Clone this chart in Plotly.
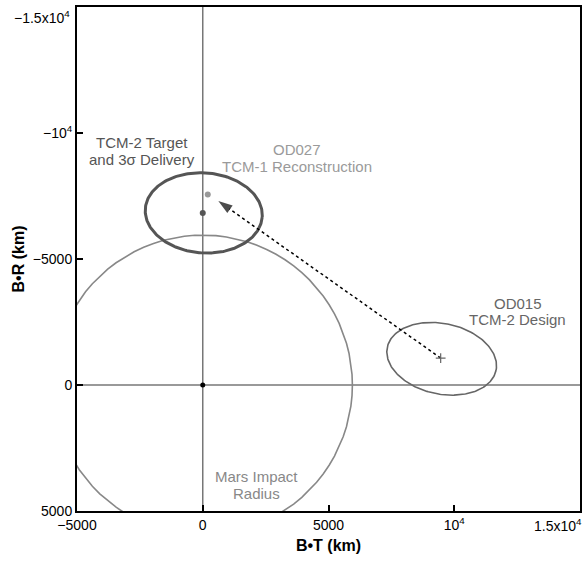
import numpy as np
import plotly.graph_objects as go

# ---- data ----
# ellipses: center x, center y, semi-axis a, semi-axis b, rotation (deg)
mars_impact = [0, 0, 5950, 5950, 0]
tcm2_target_ellipse = [40, -6830, 2330, 1590, 4]
od015_ellipse = [9500, -1040, 2210, 1400, 12]

od015_point = [9460, -1070]
od027_point = [200, -7560]
tcm2_target_point = [0, -6830]
origin_point = [0, 0]
arrow_tip = [620, -7300]

x_tickvals = [-5000, 0, 5000, 10000, 15000]
x_ticktext = ["\u22125000", "0", "5000", "10<sup>4</sup>", "1.5x10<sup>4</sup>"]
y_tickvals = [5000, 0, -5000, -10000, -15000]
y_ticktext = ["5000", "0", "\u22125000", "\u221210<sup>4</sup>", "\u22121.5x10<sup>4</sup>"]

# one entry per text line: text, x, y, colour
label_lines = [
    ("TCM-2 Target", -2400, -9620, "#555555"),
    ("and 3\u03c3 Delivery", -2400, -8950, "#555555"),
    ("OD027", 3740, -9330, "#9a9a9a"),
    ("TCM-1 Reconstruction", 3740, -8660, "#9a9a9a"),
    ("OD015", 12520, -3250, "#666666"),
    ("TCM-2 Design", 12520, -2580, "#666666"),
    ("Mars Impact", 2150, 3650, "#888888"),
    ("Radius", 2150, 4320, "#888888"),
]


def ellipse(p, n=240):
    cx, cy, a, b, rot = p
    t = np.linspace(0, 2 * np.pi, n)
    r = np.deg2rad(rot)
    x = cx + a * np.cos(t) * np.cos(r) - b * np.sin(t) * np.sin(r)
    y = cy + a * np.cos(t) * np.sin(r) + b * np.sin(t) * np.cos(r)
    return x, y


fig = go.Figure()

# zero lines
fig.add_trace(go.Scatter(x=[0, 0], y=[5000, -15000], mode="lines",
                         line=dict(color="#777777", width=1.5), hoverinfo="skip"))
fig.add_trace(go.Scatter(x=[-5000, 15000], y=[0, 0], mode="lines",
                         line=dict(color="#777777", width=1.5), hoverinfo="skip"))

mx, my = ellipse(mars_impact, 90)
fig.add_trace(go.Scatter(x=mx, y=my, mode="lines", line=dict(color="#888888", width=1.6)))
tx, ty = ellipse(tcm2_target_ellipse)
fig.add_trace(go.Scatter(x=tx, y=ty, mode="lines", line=dict(color="#555555", width=3)))
ox, oy = ellipse(od015_ellipse)
fig.add_trace(go.Scatter(x=ox, y=oy, mode="lines", line=dict(color="#666666", width=1.6)))

# dotted arrow
fig.add_trace(go.Scatter(x=[od015_point[0], arrow_tip[0]], y=[od015_point[1], arrow_tip[1]],
                         mode="lines+markers",
                         line=dict(color="black", width=1.5, dash="dot"),
                         marker=dict(symbol=["circle", "arrow"], size=[0, 15], color="black",
                                     angleref="previous", line=dict(width=0))))

# points
fig.add_trace(go.Scatter(x=[od015_point[0]], y=[od015_point[1]], mode="markers",
                         marker=dict(symbol="cross-thin", size=7, line=dict(color="#666666", width=1.2))))
fig.add_trace(go.Scatter(x=[od027_point[0]], y=[od027_point[1]], mode="markers",
                         marker=dict(symbol="circle", size=6, color="#999999")))
fig.add_trace(go.Scatter(x=[tcm2_target_point[0]], y=[tcm2_target_point[1]], mode="markers",
                         marker=dict(symbol="circle", size=6, color="#555555")))
fig.add_trace(go.Scatter(x=[origin_point[0]], y=[origin_point[1]], mode="markers",
                         marker=dict(symbol="circle", size=5, color="black")))

for text, x, y, c in label_lines:
    fig.add_annotation(x=x, y=y, text=text, showarrow=False,
                       font=dict(size=15, color=c, family="Liberation Sans, Arial"),
                       xanchor="center", yanchor="middle")

# edge tick labels are drawn shifted inward (as in the reference) so they stay on the page
x_tick_shown = x_ticktext[:-1] + [""]
y_tick_shown = y_ticktext[:-1] + [""]
fig.add_annotation(xref="paper", yref="paper", x=1, y=0, text=x_ticktext[-1],
                   showarrow=False, xanchor="right", yanchor="top", xshift=4, yshift=-3,
                   font=dict(size=14, color="black"))
fig.add_annotation(xref="paper", yref="paper", x=0, y=1, text=y_ticktext[-1],
                   showarrow=False, xanchor="right", yanchor="middle", xshift=-5, yshift=-10,
                   font=dict(size=14, color="black"))

axis_common = dict(showgrid=False, zeroline=False, showline=True, linecolor="black",
                   linewidth=2, mirror=True, ticks="inside", ticklen=6, tickwidth=1.5,
                   tickcolor="black", tickfont=dict(size=14, color="black"),
                   ticklabeloverflow="allow", automargin=False)

fig.update_xaxes(range=[-5000, 15000], tickmode="array", tickvals=x_tickvals,
                 ticktext=x_tick_shown,
                 title=dict(text="<b>B\u2022T (km)</b>", font=dict(size=16, color="black"), standoff=8),
                 **axis_common)
fig.update_yaxes(range=[5000, -15000], tickmode="array", tickvals=y_tickvals,
                 ticktext=y_tick_shown,
                 title=dict(text="<b>B\u2022R (km)</b>", font=dict(size=16, color="black"), standoff=4),
                 **axis_common)

fig.update_layout(width=583, height=563, margin=dict(l=77, r=3, t=7, b=52),
                  plot_bgcolor="white", paper_bgcolor="white", showlegend=False,
                  font=dict(family="Liberation Sans, Arial"))

fig.write_html("out.html")
